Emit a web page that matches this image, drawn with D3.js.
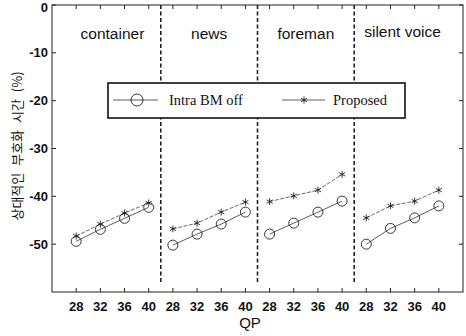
<!DOCTYPE html>
<html>
<head>
<meta charset="utf-8">
<script src="https://cdn.jsdelivr.net/npm/d3@7"></script>
<style>
  body { margin: 0; background: #fff; }
  svg text { fill: #111; }
</style>
</head>
<body>
<div id="chart"></div>
<script>
var sequences = ["container", "news", "foreman", "silent voice"];
var qpValues = [28, 32, 36, 40];
var intraOff = [
  [-49.4, -46.9, -44.6, -42.3],
  [-50.2, -47.9, -45.8, -43.3],
  [-47.9, -45.6, -43.3, -41.0],
  [-50.0, -46.7, -44.5, -42.0]
];
var proposed = [
  [-48.3, -45.8, -43.5, -41.4],
  [-46.8, -45.6, -43.3, -41.2],
  [-41.1, -39.9, -38.7, -35.4],
  [-44.5, -42.0, -41.0, -38.7]
];
var yTicks = [0, -10, -20, -30, -40, -50];

var svgWidth = 466, svgHeight = 336;
var margin = {top: 5, right: 3, bottom: 44, left: 52};

var svg = d3.select("#chart").append("svg")
  .attr("width", svgWidth)
  .attr("height", svgHeight);

var x = d3.scaleLinear().domain([-1, 16]).range([margin.left, svgWidth - margin.right]);
var y = d3.scaleLinear().domain([-60, 0]).range([svgHeight - margin.bottom, margin.top]);

var plotL = x.range()[0], plotR = x.range()[1];
var plotT = y.range()[1], plotB = y.range()[0];

// every tick index across the 4 groups
var idx = d3.range(sequences.length * qpValues.length);

// box
svg.append("rect")
  .attr("x", plotL).attr("y", plotT)
  .attr("width", plotR - plotL).attr("height", plotB - plotT)
  .attr("fill", "none").attr("stroke", "#222").attr("stroke-width", 1);

// inward ticks
var tickLen = 4;
idx.forEach(function(i) {
  svg.append("line").attr("x1", x(i)).attr("x2", x(i))
    .attr("y1", plotB).attr("y2", plotB - tickLen).attr("stroke", "#222");
  svg.append("line").attr("x1", x(i)).attr("x2", x(i))
    .attr("y1", plotT).attr("y2", plotT + tickLen).attr("stroke", "#222");
});
yTicks.forEach(function(t) {
  svg.append("line").attr("x1", plotL).attr("x2", plotL + tickLen)
    .attr("y1", y(t)).attr("y2", y(t)).attr("stroke", "#222");
  svg.append("line").attr("x1", plotR).attr("x2", plotR - tickLen)
    .attr("y1", y(t)).attr("y2", y(t)).attr("stroke", "#222");
});

// y tick labels (the top one nudged down so it stays inside the page)
svg.selectAll(".ylab").data(yTicks).enter().append("text")
  .attr("x", plotL - 4)
  .attr("y", d => Math.max(y(d), 7))
  .attr("dy", "0.35em")
  .attr("text-anchor", "end")
  .attr("font-family", "Liberation Sans, Arial, sans-serif")
  .attr("font-size", "13px")
  .attr("font-weight", "bold")
  .text(d => d);

// x tick labels
svg.selectAll(".xlab").data(idx).enter().append("text")
  .attr("x", d => x(d))
  .attr("y", plotB + 19)
  .attr("text-anchor", "middle")
  .attr("font-family", "Liberation Sans, Arial, sans-serif")
  .attr("font-size", "13px")
  .attr("font-weight", "bold")
  .text(d => qpValues[d % qpValues.length]);

// axis titles
svg.append("text")
  .attr("x", 250).attr("y", plotB + 36)
  .attr("text-anchor", "middle")
  .attr("font-family", "Liberation Sans, Arial, sans-serif")
  .attr("font-size", "15px")
  .text("QP");

svg.append("text")
  .attr("transform", "translate(22, 146) rotate(-90)")
  .attr("text-anchor", "middle")
  .attr("font-family", "Noto Sans CJK KR, sans-serif")
  .attr("font-size", "13px")
  .attr("word-spacing", "4px")
  .text("상대적인 부호화 시간 (%)");

// dashed dividers
d3.range(1, sequences.length).forEach(function(g) {
  var xi = g * qpValues.length - 0.5;
  svg.append("line")
    .attr("x1", x(xi)).attr("x2", x(xi))
    .attr("y1", plotT).attr("y2", plotB - 9)
    .attr("stroke", "#222").attr("stroke-width", 1.6)
    .attr("stroke-dasharray", "4,2.5");
});

// group names
var titleY = [39, 39, 39, 37];
sequences.forEach(function(s, g) {
  svg.append("text")
    .attr("x", x(g * qpValues.length + 1.5))
    .attr("y", titleY[g])
    .attr("text-anchor", "middle")
    .attr("font-family", "Liberation Sans, Arial, sans-serif")
    .attr("font-size", "15.5px")
    .text(s);
});

// series
var line = d3.line().x(d => x(d.i)).y(d => y(d.v));
var star = d3.symbol().type(d3.symbolAsterisk).size(34);

function seriesPts(arr, g) {
  return arr[g].map((v, k) => ({i: g * qpValues.length + k, v: v}));
}

sequences.forEach(function(s, g) {
  var offPts = seriesPts(intraOff, g);
  var propPts = seriesPts(proposed, g);

  svg.append("path").datum(offPts).attr("d", line)
    .attr("fill", "none").attr("stroke", "#333").attr("stroke-width", 0.8);
  svg.append("path").datum(propPts).attr("d", line)
    .attr("fill", "none").attr("stroke", "#444").attr("stroke-width", 0.8)
    .attr("stroke-dasharray", "4,1.5");

  svg.selectAll(null).data(offPts).enter().append("circle")
    .attr("cx", d => x(d.i)).attr("cy", d => y(d.v))
    .attr("r", 5)
    .attr("fill", "none").attr("stroke", "#222").attr("stroke-width", 0.9);

  svg.selectAll(null).data(propPts).enter().append("path")
    .attr("transform", d => `translate(${x(d.i)},${y(d.v)})`)
    .attr("d", star)
    .attr("fill", "none").attr("stroke", "#222").attr("stroke-width", 0.9);
});

// legend
var legend = svg.append("g");
legend.append("rect")
  .attr("x", 108).attr("y", 83).attr("width", 297).attr("height", 35)
  .attr("fill", "#fff").attr("stroke", "#111").attr("stroke-width", 1.6);

legend.append("line").attr("x1", 113).attr("x2", 158).attr("y1", 100).attr("y2", 100)
  .attr("stroke", "#333").attr("stroke-width", 0.8);
legend.append("circle").attr("cx", 137).attr("cy", 100).attr("r", 6)
  .attr("fill", "none").attr("stroke", "#222").attr("stroke-width", 0.9);
legend.append("text").attr("x", 169).attr("y", 105)
  .attr("font-family", "Liberation Serif, Times New Roman, serif")
  .attr("font-size", "14.5px")
  .text("Intra BM off");

legend.append("line").attr("x1", 282).attr("x2", 325).attr("y1", 100).attr("y2", 100)
  .attr("stroke", "#333").attr("stroke-width", 0.8);
legend.append("path").attr("transform", "translate(304,100)").attr("d", star)
  .attr("fill", "none").attr("stroke", "#222").attr("stroke-width", 0.9);
legend.append("text").attr("x", 333).attr("y", 105)
  .attr("font-family", "Liberation Serif, Times New Roman, serif")
  .attr("font-size", "14.5px")
  .text("Proposed");
</script>
</body>
</html>
